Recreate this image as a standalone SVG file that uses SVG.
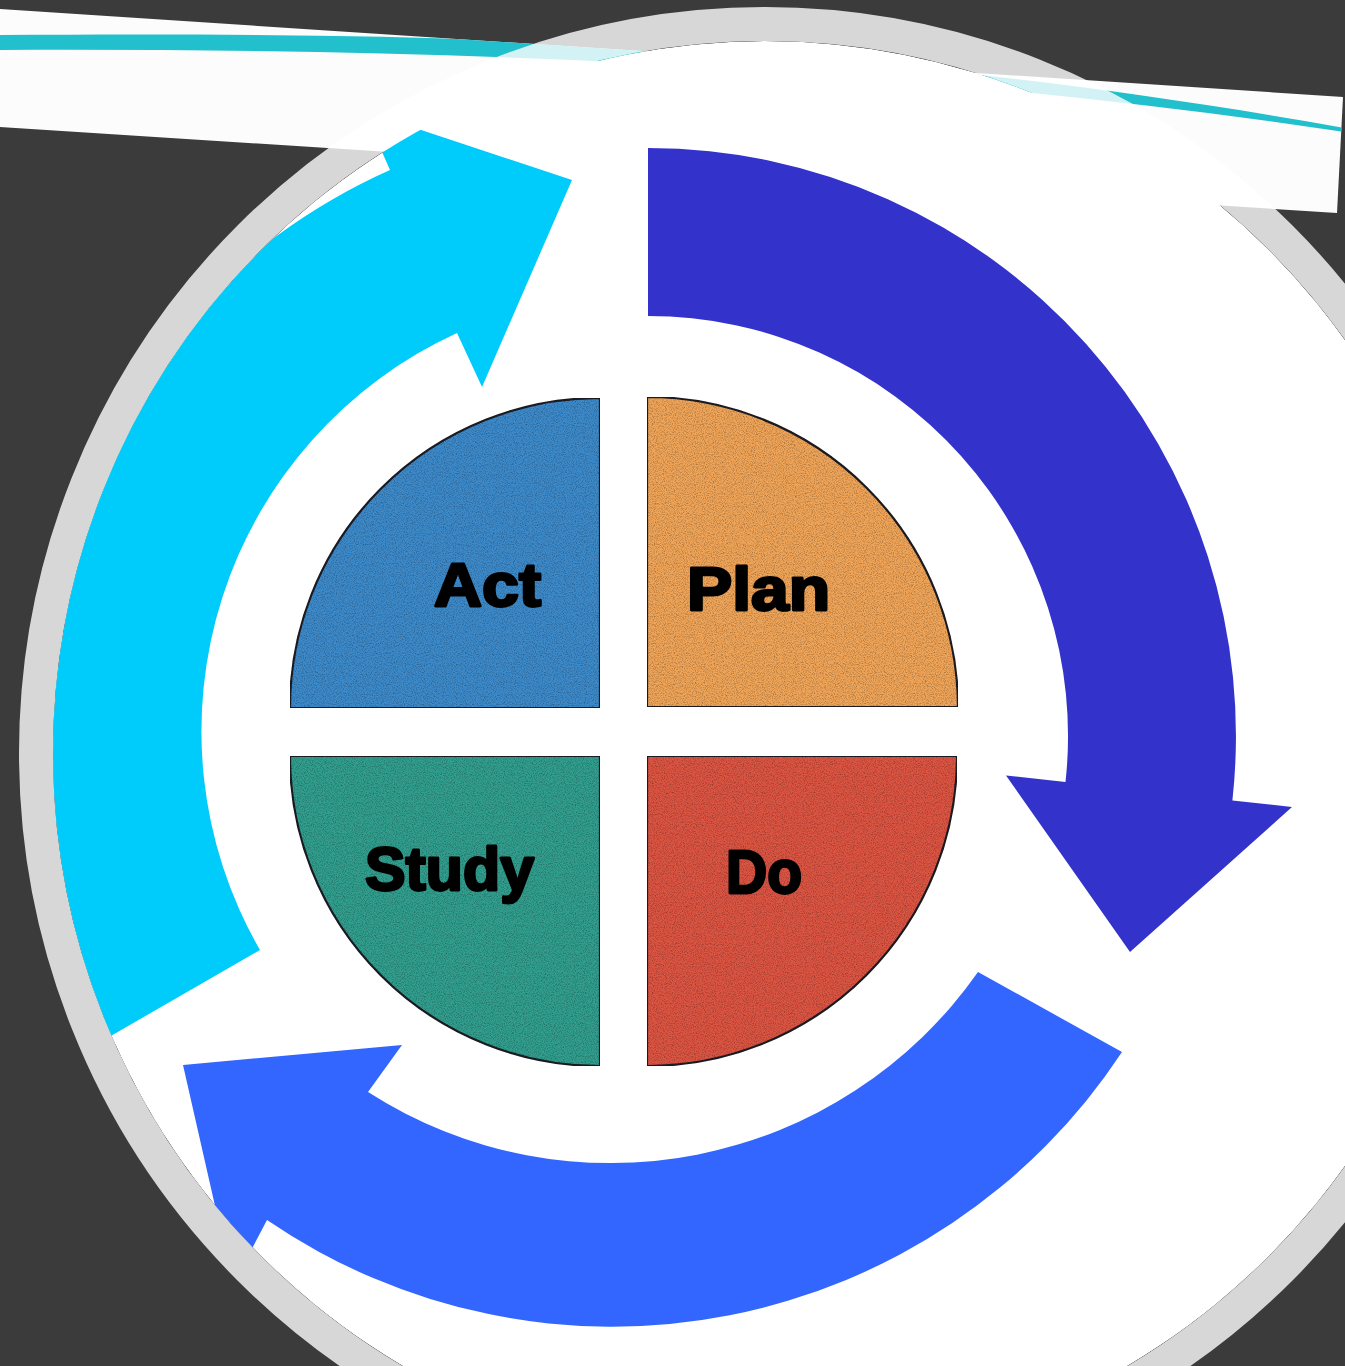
<svg xmlns="http://www.w3.org/2000/svg" width="1345" height="1366" viewBox="0 0 1345 1366">
  <style>
    .band { fill: #fcfcfc; }
    .swoosh { fill: #22bfcc; }
    .ring { fill: none; stroke: #ffffff; stroke-opacity: 0.8; stroke-width: 34; }
    .quad { stroke: #1c1c24; stroke-width: 2.2; }
    .label { font-family: "Liberation Sans", Arial, sans-serif; font-weight: bold; font-size: 61px; fill: #000; stroke: #000; stroke-width: 2.8px; stroke-linejoin: round; }
  </style>
  <defs>
    <clipPath id="bandClip">
      <polygon points="0,9 1343,97 1337,213 0,127"/>
    </clipPath>
    <clipPath id="frameClip">
      <circle cx="765" cy="753" r="712"/>
    </clipPath>
    <!-- fine dark speckle for the printed-paper look of the quadrants -->
    <filter id="grain" x="0" y="0" width="100%" height="100%" color-interpolation-filters="sRGB">
      <feTurbulence type="fractalNoise" baseFrequency="0.9" numOctaves="2" seed="7" result="noise"/>
      <feColorMatrix in="noise" type="matrix" values="0 0 0 0 0  0 0 0 0 0  0 0 0 0 0  0.7 0 0 0 -0.3" result="speck"/>
      <feComposite in="speck" in2="SourceGraphic" operator="in" result="clipped"/>
      <feMerge>
        <feMergeNode in="SourceGraphic"/>
        <feMergeNode in="clipped"/>
      </feMerge>
    </filter>
  </defs>

  <!-- slide background -->
  <rect width="1345" height="1366" fill="#3b3b3b"/>

  <!-- tilted title strip with its teal swoosh -->
  <g id="title-strip">
    <polygon class="band" points="0,9 1343,97 1337,213 0,127"/>
    <path class="swoosh" clip-path="url(#bandClip)" d="M0,35 C450,32 850,40 1345,128 L1345,132 C900,65 450,48 0,50 Z"/>
  </g>

  <!-- translucent frame around the round picture -->
  <circle class="ring" cx="765" cy="753" r="729"/>

  <!-- round picture -->
  <g id="picture" clip-path="url(#frameClip)">
    <circle cx="765" cy="753" r="712" fill="#ffffff"/>

    <!-- cycle arrows -->
    <g id="connectors">
      <path id="arrow-plan-do" fill="#3333cc" d="M648,148 A588,588 0 0 1 1232.4,800.5 L1292,807 L1130,952 L1006,775.5 L1065.5,782 A420,420 0 0 0 648,316 Z"/>
      <path id="arrow-do-study" fill="#3366ff" d="M978,972 L1122,1052 A611,611 0 0 1 267,1220 L233,1285 L183,1065 L402,1045 L368,1092 A449,449 0 0 0 978,972 Z"/>
      <path id="arrow-study-act" fill="#00ccfc" d="M260,950 L109,1037 A613,613 0 0 1 390,170 L364,111 L572,180 L482,387 L457,333 A438,438 0 0 0 260,950 Z"/>
    </g>

    <!-- quadrants -->
    <g id="act">
      <path class="quad" fill="#3d8aca" filter="url(#grain)" d="M600,708 L290,708 A310,310 0 0 1 600,398 Z"/>
      <text class="label" x="434" y="606" textLength="107" lengthAdjust="spacingAndGlyphs">Act</text>
    </g>
    <g id="plan">
      <path class="quad" fill="#efa458" filter="url(#grain)" d="M647,707 L647,397 A311,311 0 0 1 958,707 Z"/>
      <text class="label" x="687" y="610" textLength="143" lengthAdjust="spacingAndGlyphs">Plan</text>
    </g>
    <g id="study">
      <path class="quad" fill="#319e8e" filter="url(#grain)" d="M600,756 L600,1066 A310,310 0 0 1 290,756 Z"/>
      <text class="label" x="365" y="890" textLength="169" lengthAdjust="spacingAndGlyphs">Study</text>
    </g>
    <g id="do">
      <path class="quad" fill="#dc5442" filter="url(#grain)" d="M647,756 L957,756 A310,310 0 0 1 647,1066 Z"/>
      <text class="label" x="726" y="893" textLength="76" lengthAdjust="spacingAndGlyphs">Do</text>
    </g>
  </g>
</svg>
